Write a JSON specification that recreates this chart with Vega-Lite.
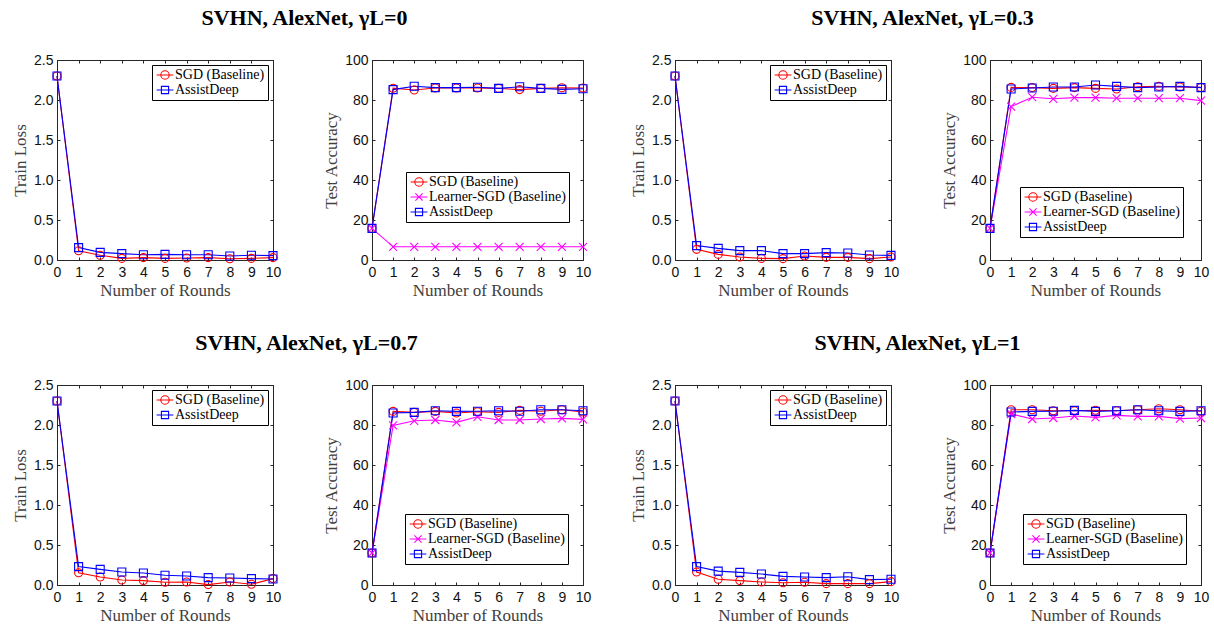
{
  "$schema": "https://vega.github.io/schema/vega-lite/v6.json",
  "padding": {"left": 11, "top": 6, "right": 2, "bottom": 2},
  "datasets": {
    "loss0": [
      {"round": 0, "series": "SGD (Baseline)", "value": 2.3}, {"round": 1, "series": "SGD (Baseline)", "value": 0.115}, {"round": 2, "series": "SGD (Baseline)", "value": 0.06}, {"round": 3, "series": "SGD (Baseline)", "value": 0.02}, {"round": 4, "series": "SGD (Baseline)", "value": 0.03}, {"round": 5, "series": "SGD (Baseline)", "value": 0.02}, {"round": 6, "series": "SGD (Baseline)", "value": 0.025}, {"round": 7, "series": "SGD (Baseline)", "value": 0.03}, {"round": 8, "series": "SGD (Baseline)", "value": 0.015}, {"round": 9, "series": "SGD (Baseline)", "value": 0.02}, {"round": 10, "series": "SGD (Baseline)", "value": 0.03},
      {"round": 0, "series": "AssistDeep", "value": 2.3}, {"round": 1, "series": "AssistDeep", "value": 0.155}, {"round": 2, "series": "AssistDeep", "value": 0.095}, {"round": 3, "series": "AssistDeep", "value": 0.08}, {"round": 4, "series": "AssistDeep", "value": 0.065}, {"round": 5, "series": "AssistDeep", "value": 0.07}, {"round": 6, "series": "AssistDeep", "value": 0.065}, {"round": 7, "series": "AssistDeep", "value": 0.065}, {"round": 8, "series": "AssistDeep", "value": 0.05}, {"round": 9, "series": "AssistDeep", "value": 0.06}, {"round": 10, "series": "AssistDeep", "value": 0.055}
    ],
    "acc0": [
      {"round": 0, "series": "SGD (Baseline)", "value": 15.8}, {"round": 1, "series": "SGD (Baseline)", "value": 85.9}, {"round": 2, "series": "SGD (Baseline)", "value": 85.0}, {"round": 3, "series": "SGD (Baseline)", "value": 86.0}, {"round": 4, "series": "SGD (Baseline)", "value": 86.0}, {"round": 5, "series": "SGD (Baseline)", "value": 86.0}, {"round": 6, "series": "SGD (Baseline)", "value": 85.8}, {"round": 7, "series": "SGD (Baseline)", "value": 85.2}, {"round": 8, "series": "SGD (Baseline)", "value": 85.8}, {"round": 9, "series": "SGD (Baseline)", "value": 86.1}, {"round": 10, "series": "SGD (Baseline)", "value": 86.0},
      {"round": 0, "series": "Learner-SGD (Baseline)", "value": 15.8}, {"round": 1, "series": "Learner-SGD (Baseline)", "value": 6.6}, {"round": 2, "series": "Learner-SGD (Baseline)", "value": 6.6}, {"round": 3, "series": "Learner-SGD (Baseline)", "value": 6.6}, {"round": 4, "series": "Learner-SGD (Baseline)", "value": 6.6}, {"round": 5, "series": "Learner-SGD (Baseline)", "value": 6.6}, {"round": 6, "series": "Learner-SGD (Baseline)", "value": 6.6}, {"round": 7, "series": "Learner-SGD (Baseline)", "value": 6.6}, {"round": 8, "series": "Learner-SGD (Baseline)", "value": 6.6}, {"round": 9, "series": "Learner-SGD (Baseline)", "value": 6.6}, {"round": 10, "series": "Learner-SGD (Baseline)", "value": 6.6},
      {"round": 0, "series": "AssistDeep", "value": 15.8}, {"round": 1, "series": "AssistDeep", "value": 85.2}, {"round": 2, "series": "AssistDeep", "value": 86.9}, {"round": 3, "series": "AssistDeep", "value": 86.2}, {"round": 4, "series": "AssistDeep", "value": 86.2}, {"round": 5, "series": "AssistDeep", "value": 86.4}, {"round": 6, "series": "AssistDeep", "value": 85.8}, {"round": 7, "series": "AssistDeep", "value": 86.6}, {"round": 8, "series": "AssistDeep", "value": 85.8}, {"round": 9, "series": "AssistDeep", "value": 85.3}, {"round": 10, "series": "AssistDeep", "value": 85.6}
    ],
    "loss03": [
      {"round": 0, "series": "SGD (Baseline)", "value": 2.3}, {"round": 1, "series": "SGD (Baseline)", "value": 0.133}, {"round": 2, "series": "SGD (Baseline)", "value": 0.07}, {"round": 3, "series": "SGD (Baseline)", "value": 0.037}, {"round": 4, "series": "SGD (Baseline)", "value": 0.02}, {"round": 5, "series": "SGD (Baseline)", "value": 0.017}, {"round": 6, "series": "SGD (Baseline)", "value": 0.05}, {"round": 7, "series": "SGD (Baseline)", "value": 0.033}, {"round": 8, "series": "SGD (Baseline)", "value": 0.033}, {"round": 9, "series": "SGD (Baseline)", "value": 0.017}, {"round": 10, "series": "SGD (Baseline)", "value": 0.037},
      {"round": 0, "series": "AssistDeep", "value": 2.3}, {"round": 1, "series": "AssistDeep", "value": 0.18}, {"round": 2, "series": "AssistDeep", "value": 0.145}, {"round": 3, "series": "AssistDeep", "value": 0.117}, {"round": 4, "series": "AssistDeep", "value": 0.117}, {"round": 5, "series": "AssistDeep", "value": 0.08}, {"round": 6, "series": "AssistDeep", "value": 0.08}, {"round": 7, "series": "AssistDeep", "value": 0.092}, {"round": 8, "series": "AssistDeep", "value": 0.088}, {"round": 9, "series": "AssistDeep", "value": 0.063}, {"round": 10, "series": "AssistDeep", "value": 0.058}
    ],
    "acc03": [
      {"round": 0, "series": "SGD (Baseline)", "value": 15.8}, {"round": 1, "series": "SGD (Baseline)", "value": 86.3}, {"round": 2, "series": "SGD (Baseline)", "value": 86.2}, {"round": 3, "series": "SGD (Baseline)", "value": 85.8}, {"round": 4, "series": "SGD (Baseline)", "value": 86.2}, {"round": 5, "series": "SGD (Baseline)", "value": 85.8}, {"round": 6, "series": "SGD (Baseline)", "value": 85.5}, {"round": 7, "series": "SGD (Baseline)", "value": 86.6}, {"round": 8, "series": "SGD (Baseline)", "value": 86.8}, {"round": 9, "series": "SGD (Baseline)", "value": 86.5}, {"round": 10, "series": "SGD (Baseline)", "value": 86.3},
      {"round": 0, "series": "Learner-SGD (Baseline)", "value": 15.8}, {"round": 1, "series": "Learner-SGD (Baseline)", "value": 76.7}, {"round": 2, "series": "Learner-SGD (Baseline)", "value": 81.4}, {"round": 3, "series": "Learner-SGD (Baseline)", "value": 80.6}, {"round": 4, "series": "Learner-SGD (Baseline)", "value": 81.2}, {"round": 5, "series": "Learner-SGD (Baseline)", "value": 81.2}, {"round": 6, "series": "Learner-SGD (Baseline)", "value": 80.9}, {"round": 7, "series": "Learner-SGD (Baseline)", "value": 80.9}, {"round": 8, "series": "Learner-SGD (Baseline)", "value": 80.9}, {"round": 9, "series": "Learner-SGD (Baseline)", "value": 80.9}, {"round": 10, "series": "Learner-SGD (Baseline)", "value": 79.7},
      {"round": 0, "series": "AssistDeep", "value": 15.8}, {"round": 1, "series": "AssistDeep", "value": 85.5}, {"round": 2, "series": "AssistDeep", "value": 86.0}, {"round": 3, "series": "AssistDeep", "value": 86.5}, {"round": 4, "series": "AssistDeep", "value": 86.5}, {"round": 5, "series": "AssistDeep", "value": 87.5}, {"round": 6, "series": "AssistDeep", "value": 86.8}, {"round": 7, "series": "AssistDeep", "value": 86.2}, {"round": 8, "series": "AssistDeep", "value": 86.5}, {"round": 9, "series": "AssistDeep", "value": 86.8}, {"round": 10, "series": "AssistDeep", "value": 86.2}
    ],
    "loss07": [
      {"round": 0, "series": "SGD (Baseline)", "value": 2.3}, {"round": 1, "series": "SGD (Baseline)", "value": 0.154}, {"round": 2, "series": "SGD (Baseline)", "value": 0.1}, {"round": 3, "series": "SGD (Baseline)", "value": 0.062}, {"round": 4, "series": "SGD (Baseline)", "value": 0.055}, {"round": 5, "series": "SGD (Baseline)", "value": 0.034}, {"round": 6, "series": "SGD (Baseline)", "value": 0.038}, {"round": 7, "series": "SGD (Baseline)", "value": 0.005}, {"round": 8, "series": "SGD (Baseline)", "value": 0.038}, {"round": 9, "series": "SGD (Baseline)", "value": 0.009}, {"round": 10, "series": "SGD (Baseline)", "value": 0.08},
      {"round": 0, "series": "AssistDeep", "value": 2.3}, {"round": 1, "series": "AssistDeep", "value": 0.23}, {"round": 2, "series": "AssistDeep", "value": 0.195}, {"round": 3, "series": "AssistDeep", "value": 0.162}, {"round": 4, "series": "AssistDeep", "value": 0.15}, {"round": 5, "series": "AssistDeep", "value": 0.121}, {"round": 6, "series": "AssistDeep", "value": 0.112}, {"round": 7, "series": "AssistDeep", "value": 0.092}, {"round": 8, "series": "AssistDeep", "value": 0.088}, {"round": 9, "series": "AssistDeep", "value": 0.08}, {"round": 10, "series": "AssistDeep", "value": 0.075}
    ],
    "acc07": [
      {"round": 0, "series": "SGD (Baseline)", "value": 16.0}, {"round": 1, "series": "SGD (Baseline)", "value": 86.8}, {"round": 2, "series": "SGD (Baseline)", "value": 86.3}, {"round": 3, "series": "SGD (Baseline)", "value": 86.8}, {"round": 4, "series": "SGD (Baseline)", "value": 86.0}, {"round": 5, "series": "SGD (Baseline)", "value": 86.6}, {"round": 6, "series": "SGD (Baseline)", "value": 86.3}, {"round": 7, "series": "SGD (Baseline)", "value": 87.3}, {"round": 8, "series": "SGD (Baseline)", "value": 86.9}, {"round": 9, "series": "SGD (Baseline)", "value": 87.6}, {"round": 10, "series": "SGD (Baseline)", "value": 86.5},
      {"round": 0, "series": "Learner-SGD (Baseline)", "value": 16.0}, {"round": 1, "series": "Learner-SGD (Baseline)", "value": 79.8}, {"round": 2, "series": "Learner-SGD (Baseline)", "value": 82.1}, {"round": 3, "series": "Learner-SGD (Baseline)", "value": 82.5}, {"round": 4, "series": "Learner-SGD (Baseline)", "value": 81.3}, {"round": 5, "series": "Learner-SGD (Baseline)", "value": 84.1}, {"round": 6, "series": "Learner-SGD (Baseline)", "value": 82.5}, {"round": 7, "series": "Learner-SGD (Baseline)", "value": 82.5}, {"round": 8, "series": "Learner-SGD (Baseline)", "value": 83.0}, {"round": 9, "series": "Learner-SGD (Baseline)", "value": 83.3}, {"round": 10, "series": "Learner-SGD (Baseline)", "value": 82.8},
      {"round": 0, "series": "AssistDeep", "value": 16.0}, {"round": 1, "series": "AssistDeep", "value": 86.0}, {"round": 2, "series": "AssistDeep", "value": 86.3}, {"round": 3, "series": "AssistDeep", "value": 87.1}, {"round": 4, "series": "AssistDeep", "value": 86.8}, {"round": 5, "series": "AssistDeep", "value": 86.9}, {"round": 6, "series": "AssistDeep", "value": 87.1}, {"round": 7, "series": "AssistDeep", "value": 86.9}, {"round": 8, "series": "AssistDeep", "value": 87.6}, {"round": 9, "series": "AssistDeep", "value": 87.6}, {"round": 10, "series": "AssistDeep", "value": 87.1}
    ],
    "loss1": [
      {"round": 0, "series": "SGD (Baseline)", "value": 2.3}, {"round": 1, "series": "SGD (Baseline)", "value": 0.162}, {"round": 2, "series": "SGD (Baseline)", "value": 0.071}, {"round": 3, "series": "SGD (Baseline)", "value": 0.055}, {"round": 4, "series": "SGD (Baseline)", "value": 0.038}, {"round": 5, "series": "SGD (Baseline)", "value": 0.029}, {"round": 6, "series": "SGD (Baseline)", "value": 0.034}, {"round": 7, "series": "SGD (Baseline)", "value": 0.017}, {"round": 8, "series": "SGD (Baseline)", "value": 0.017}, {"round": 9, "series": "SGD (Baseline)", "value": 0.017}, {"round": 10, "series": "SGD (Baseline)", "value": 0.042},
      {"round": 0, "series": "AssistDeep", "value": 2.3}, {"round": 1, "series": "AssistDeep", "value": 0.23}, {"round": 2, "series": "AssistDeep", "value": 0.174}, {"round": 3, "series": "AssistDeep", "value": 0.158}, {"round": 4, "series": "AssistDeep", "value": 0.137}, {"round": 5, "series": "AssistDeep", "value": 0.108}, {"round": 6, "series": "AssistDeep", "value": 0.1}, {"round": 7, "series": "AssistDeep", "value": 0.092}, {"round": 8, "series": "AssistDeep", "value": 0.104}, {"round": 9, "series": "AssistDeep", "value": 0.067}, {"round": 10, "series": "AssistDeep", "value": 0.071}
    ],
    "acc1": [
      {"round": 0, "series": "SGD (Baseline)", "value": 16.0}, {"round": 1, "series": "SGD (Baseline)", "value": 87.6}, {"round": 2, "series": "SGD (Baseline)", "value": 87.6}, {"round": 3, "series": "SGD (Baseline)", "value": 87.1}, {"round": 4, "series": "SGD (Baseline)", "value": 87.1}, {"round": 5, "series": "SGD (Baseline)", "value": 87.4}, {"round": 6, "series": "SGD (Baseline)", "value": 87.1}, {"round": 7, "series": "SGD (Baseline)", "value": 87.6}, {"round": 8, "series": "SGD (Baseline)", "value": 88.1}, {"round": 9, "series": "SGD (Baseline)", "value": 87.6}, {"round": 10, "series": "SGD (Baseline)", "value": 86.9},
      {"round": 0, "series": "Learner-SGD (Baseline)", "value": 16.0}, {"round": 1, "series": "Learner-SGD (Baseline)", "value": 85.5}, {"round": 2, "series": "Learner-SGD (Baseline)", "value": 83.0}, {"round": 3, "series": "Learner-SGD (Baseline)", "value": 83.5}, {"round": 4, "series": "Learner-SGD (Baseline)", "value": 84.5}, {"round": 5, "series": "Learner-SGD (Baseline)", "value": 83.8}, {"round": 6, "series": "Learner-SGD (Baseline)", "value": 84.8}, {"round": 7, "series": "Learner-SGD (Baseline)", "value": 84.3}, {"round": 8, "series": "Learner-SGD (Baseline)", "value": 84.3}, {"round": 9, "series": "Learner-SGD (Baseline)", "value": 83.2}, {"round": 10, "series": "Learner-SGD (Baseline)", "value": 83.5},
      {"round": 0, "series": "AssistDeep", "value": 16.0}, {"round": 1, "series": "AssistDeep", "value": 86.5}, {"round": 2, "series": "AssistDeep", "value": 86.8}, {"round": 3, "series": "AssistDeep", "value": 86.9}, {"round": 4, "series": "AssistDeep", "value": 87.3}, {"round": 5, "series": "AssistDeep", "value": 86.8}, {"round": 6, "series": "AssistDeep", "value": 87.1}, {"round": 7, "series": "AssistDeep", "value": 87.6}, {"round": 8, "series": "AssistDeep", "value": 87.1}, {"round": 9, "series": "AssistDeep", "value": 86.8}, {"round": 10, "series": "AssistDeep", "value": 87.1}
    ]
  },
  "resolve": {"scale": {"color": "independent", "shape": "independent"}},
  "vconcat": [
    {
      "resolve": {"scale": {"color": "independent", "shape": "independent"}},
      "hconcat": [
        {
          "title": {"text": "SVHN, AlexNet, γL=0", "dx": 3},
          "resolve": {"scale": {"color": "independent", "shape": "independent"}},
          "hconcat": [
            {
              "width": 216, "height": 200, "data": {"name": "loss0"},
              "resolve": {"scale": {"color": "independent", "shape": "independent"}, "axis": {"x": "independent", "y": "independent"}, "legend": {"color": "independent", "shape": "independent"}},
              "layer": [
                {"mark": {"type": "line", "strokeWidth": 1.1},
                 "encoding": {
                   "x": {"field": "round", "type": "quantitative", "scale": {"domain": [0, 10], "nice": false}, "axis": {"title": "Number of Rounds", "values": [0,1,2,3,4,5,6,7,8,9,10]}},
                   "y": {"field": "value", "type": "quantitative", "scale": {"domain": [0, 2.5], "nice": false}, "axis": {"title": "Train Loss", "values": [0,0.5,1,1.5,2,2.5]}},
                   "color": {"field": "series", "type": "nominal", "scale": {"domain": ["SGD (Baseline)", "AssistDeep"], "range": ["#ff0000", "#0000ff"]}, "legend": null}}},
                {"mark": {"type": "point", "filled": false, "size": 64, "strokeWidth": 1.1, "opacity": 1},
                 "encoding": {
                   "x": {"field": "round", "type": "quantitative", "scale": {"domain": [0, 10], "nice": false}, "axis": {"orient": "top", "labels": false, "title": null, "values": [0,1,2,3,4,5,6,7,8,9,10]}},
                   "y": {"field": "value", "type": "quantitative", "scale": {"domain": [0, 2.5], "nice": false}, "axis": {"orient": "right", "labels": false, "title": null, "values": [0,0.5,1,1.5,2,2.5]}},
                   "color": {"field": "series", "type": "nominal", "scale": {"domain": ["SGD (Baseline)", "AssistDeep"], "range": ["#ff0000", "#0000ff"]}, "legend": null},
                   "shape": {"field": "series", "type": "nominal", "scale": {"domain": ["SGD (Baseline)", "AssistDeep"], "range": ["circle", "square"]}, "legend": null}}},
                {"mark": {"type": "point", "filled": false, "size": 144, "strokeWidth": 1.1, "opacity": 0},
                 "encoding": {
                   "x": {"field": "round", "type": "quantitative", "scale": {"domain": [0, 10], "nice": false}, "axis": null},
                   "y": {"field": "value", "type": "quantitative", "scale": {"domain": [0, 2.5], "nice": false}, "axis": null},
                   "color": {"field": "series", "type": "nominal", "scale": {"domain": ["SGD (Baseline)", "AssistDeep"], "range": ["#ff0000", "#0000ff"]}, "legend": {"orient": "top-right", "offset": 5, "title": null}},
                   "shape": {"field": "series", "type": "nominal", "scale": {"domain": ["SGD (Baseline)", "AssistDeep"], "range": ["M-1.4,0L1.4,0M0.7,0A0.7,0.7,0,1,1,-0.7,0A0.7,0.7,0,1,1,0.7,0", "M-1.4,0L1.4,0M-0.6,-0.6L0.6,-0.6L0.6,0.6L-0.6,0.6Z"]}, "legend": {"orient": "top-right", "offset": 5, "title": null}}}}
              ]
            },
            {
              "width": 211, "height": 200, "data": {"name": "acc0"},
              "resolve": {"scale": {"color": "independent", "shape": "independent"}, "axis": {"x": "independent", "y": "independent"}, "legend": {"color": "independent", "shape": "independent"}},
              "layer": [
                {"mark": {"type": "line", "strokeWidth": 1.1},
                 "encoding": {
                   "x": {"field": "round", "type": "quantitative", "scale": {"domain": [0, 10], "nice": false}, "axis": {"title": "Number of Rounds", "values": [0,1,2,3,4,5,6,7,8,9,10]}},
                   "y": {"field": "value", "type": "quantitative", "scale": {"domain": [0, 100], "nice": false}, "axis": {"title": "Test Accuracy", "values": [0,20,40,60,80,100]}},
                   "color": {"field": "series", "type": "nominal", "scale": {"domain": ["SGD (Baseline)", "Learner-SGD (Baseline)", "AssistDeep"], "range": ["#ff0000", "#ff00ff", "#0000ff"]}, "legend": null}}},
                {"mark": {"type": "point", "filled": false, "size": 64, "strokeWidth": 1.1, "opacity": 1},
                 "encoding": {
                   "x": {"field": "round", "type": "quantitative", "scale": {"domain": [0, 10], "nice": false}, "axis": {"orient": "top", "labels": false, "title": null, "values": [0,1,2,3,4,5,6,7,8,9,10]}},
                   "y": {"field": "value", "type": "quantitative", "scale": {"domain": [0, 100], "nice": false}, "axis": {"orient": "right", "labels": false, "title": null, "values": [0,20,40,60,80,100]}},
                   "color": {"field": "series", "type": "nominal", "scale": {"domain": ["SGD (Baseline)", "Learner-SGD (Baseline)", "AssistDeep"], "range": ["#ff0000", "#ff00ff", "#0000ff"]}, "legend": null},
                   "shape": {"field": "series", "type": "nominal", "scale": {"domain": ["SGD (Baseline)", "Learner-SGD (Baseline)", "AssistDeep"], "range": ["circle", "M-1,-1L1,1M-1,1L1,-1", "square"]}, "legend": null}}},
                {"mark": {"type": "point", "filled": false, "size": 144, "strokeWidth": 1.1, "opacity": 0},
                 "encoding": {
                   "x": {"field": "round", "type": "quantitative", "scale": {"domain": [0, 10], "nice": false}, "axis": null},
                   "y": {"field": "value", "type": "quantitative", "scale": {"domain": [0, 100], "nice": false}, "axis": null},
                   "color": {"field": "series", "type": "nominal", "scale": {"domain": ["SGD (Baseline)", "Learner-SGD (Baseline)", "AssistDeep"], "range": ["#ff0000", "#ff00ff", "#0000ff"]}, "legend": {"orient": "none", "legendX": 34, "legendY": 112, "title": null}},
                   "shape": {"field": "series", "type": "nominal", "scale": {"domain": ["SGD (Baseline)", "Learner-SGD (Baseline)", "AssistDeep"], "range": ["M-1.4,0L1.4,0M0.7,0A0.7,0.7,0,1,1,-0.7,0A0.7,0.7,0,1,1,0.7,0", "M-1.4,0L1.4,0M-0.6,-0.6L0.6,0.6M-0.6,0.6L0.6,-0.6", "M-1.4,0L1.4,0M-0.6,-0.6L0.6,-0.6L0.6,0.6L-0.6,0.6Z"]}, "legend": {"orient": "none", "legendX": 34, "legendY": 112, "title": null}}}}
              ]
            }
          ],
          "spacing": 40
        },
        {
          "title": {"text": "SVHN, AlexNet, γL=0.3", "dx": 3},
          "resolve": {"scale": {"color": "independent", "shape": "independent"}},
          "hconcat": [
            {
              "width": 216, "height": 200, "data": {"name": "loss03"},
              "resolve": {"scale": {"color": "independent", "shape": "independent"}, "axis": {"x": "independent", "y": "independent"}, "legend": {"color": "independent", "shape": "independent"}},
              "layer": [
                {"mark": {"type": "line", "strokeWidth": 1.1},
                 "encoding": {
                   "x": {"field": "round", "type": "quantitative", "scale": {"domain": [0, 10], "nice": false}, "axis": {"title": "Number of Rounds", "values": [0,1,2,3,4,5,6,7,8,9,10]}},
                   "y": {"field": "value", "type": "quantitative", "scale": {"domain": [0, 2.5], "nice": false}, "axis": {"title": "Train Loss", "values": [0,0.5,1,1.5,2,2.5]}},
                   "color": {"field": "series", "type": "nominal", "scale": {"domain": ["SGD (Baseline)", "AssistDeep"], "range": ["#ff0000", "#0000ff"]}, "legend": null}}},
                {"mark": {"type": "point", "filled": false, "size": 64, "strokeWidth": 1.1, "opacity": 1},
                 "encoding": {
                   "x": {"field": "round", "type": "quantitative", "scale": {"domain": [0, 10], "nice": false}, "axis": {"orient": "top", "labels": false, "title": null, "values": [0,1,2,3,4,5,6,7,8,9,10]}},
                   "y": {"field": "value", "type": "quantitative", "scale": {"domain": [0, 2.5], "nice": false}, "axis": {"orient": "right", "labels": false, "title": null, "values": [0,0.5,1,1.5,2,2.5]}},
                   "color": {"field": "series", "type": "nominal", "scale": {"domain": ["SGD (Baseline)", "AssistDeep"], "range": ["#ff0000", "#0000ff"]}, "legend": null},
                   "shape": {"field": "series", "type": "nominal", "scale": {"domain": ["SGD (Baseline)", "AssistDeep"], "range": ["circle", "square"]}, "legend": null}}},
                {"mark": {"type": "point", "filled": false, "size": 144, "strokeWidth": 1.1, "opacity": 0},
                 "encoding": {
                   "x": {"field": "round", "type": "quantitative", "scale": {"domain": [0, 10], "nice": false}, "axis": null},
                   "y": {"field": "value", "type": "quantitative", "scale": {"domain": [0, 2.5], "nice": false}, "axis": null},
                   "color": {"field": "series", "type": "nominal", "scale": {"domain": ["SGD (Baseline)", "AssistDeep"], "range": ["#ff0000", "#0000ff"]}, "legend": {"orient": "top-right", "offset": 5, "title": null}},
                   "shape": {"field": "series", "type": "nominal", "scale": {"domain": ["SGD (Baseline)", "AssistDeep"], "range": ["M-1.4,0L1.4,0M0.7,0A0.7,0.7,0,1,1,-0.7,0A0.7,0.7,0,1,1,0.7,0", "M-1.4,0L1.4,0M-0.6,-0.6L0.6,-0.6L0.6,0.6L-0.6,0.6Z"]}, "legend": {"orient": "top-right", "offset": 5, "title": null}}}}
              ]
            },
            {
              "width": 211, "height": 200, "data": {"name": "acc03"},
              "resolve": {"scale": {"color": "independent", "shape": "independent"}, "axis": {"x": "independent", "y": "independent"}, "legend": {"color": "independent", "shape": "independent"}},
              "layer": [
                {"mark": {"type": "line", "strokeWidth": 1.1},
                 "encoding": {
                   "x": {"field": "round", "type": "quantitative", "scale": {"domain": [0, 10], "nice": false}, "axis": {"title": "Number of Rounds", "values": [0,1,2,3,4,5,6,7,8,9,10]}},
                   "y": {"field": "value", "type": "quantitative", "scale": {"domain": [0, 100], "nice": false}, "axis": {"title": "Test Accuracy", "values": [0,20,40,60,80,100]}},
                   "color": {"field": "series", "type": "nominal", "scale": {"domain": ["SGD (Baseline)", "Learner-SGD (Baseline)", "AssistDeep"], "range": ["#ff0000", "#ff00ff", "#0000ff"]}, "legend": null}}},
                {"mark": {"type": "point", "filled": false, "size": 64, "strokeWidth": 1.1, "opacity": 1},
                 "encoding": {
                   "x": {"field": "round", "type": "quantitative", "scale": {"domain": [0, 10], "nice": false}, "axis": {"orient": "top", "labels": false, "title": null, "values": [0,1,2,3,4,5,6,7,8,9,10]}},
                   "y": {"field": "value", "type": "quantitative", "scale": {"domain": [0, 100], "nice": false}, "axis": {"orient": "right", "labels": false, "title": null, "values": [0,20,40,60,80,100]}},
                   "color": {"field": "series", "type": "nominal", "scale": {"domain": ["SGD (Baseline)", "Learner-SGD (Baseline)", "AssistDeep"], "range": ["#ff0000", "#ff00ff", "#0000ff"]}, "legend": null},
                   "shape": {"field": "series", "type": "nominal", "scale": {"domain": ["SGD (Baseline)", "Learner-SGD (Baseline)", "AssistDeep"], "range": ["circle", "M-1,-1L1,1M-1,1L1,-1", "square"]}, "legend": null}}},
                {"mark": {"type": "point", "filled": false, "size": 144, "strokeWidth": 1.1, "opacity": 0},
                 "encoding": {
                   "x": {"field": "round", "type": "quantitative", "scale": {"domain": [0, 10], "nice": false}, "axis": null},
                   "y": {"field": "value", "type": "quantitative", "scale": {"domain": [0, 100], "nice": false}, "axis": null},
                   "color": {"field": "series", "type": "nominal", "scale": {"domain": ["SGD (Baseline)", "Learner-SGD (Baseline)", "AssistDeep"], "range": ["#ff0000", "#ff00ff", "#0000ff"]}, "legend": {"orient": "none", "legendX": 30, "legendY": 127, "title": null}},
                   "shape": {"field": "series", "type": "nominal", "scale": {"domain": ["SGD (Baseline)", "Learner-SGD (Baseline)", "AssistDeep"], "range": ["M-1.4,0L1.4,0M0.7,0A0.7,0.7,0,1,1,-0.7,0A0.7,0.7,0,1,1,0.7,0", "M-1.4,0L1.4,0M-0.6,-0.6L0.6,0.6M-0.6,0.6L0.6,-0.6", "M-1.4,0L1.4,0M-0.6,-0.6L0.6,-0.6L0.6,0.6L-0.6,0.6Z"]}, "legend": {"orient": "none", "legendX": 30, "legendY": 127, "title": null}}}}
              ]
            }
          ],
          "spacing": 40
        }
      ],
      "spacing": 37
    },
    {
      "resolve": {"scale": {"color": "independent", "shape": "independent"}},
      "hconcat": [
        {
          "title": {"text": "SVHN, AlexNet, γL=0.7", "dx": 5},
          "resolve": {"scale": {"color": "independent", "shape": "independent"}},
          "hconcat": [
            {
              "width": 216, "height": 200, "data": {"name": "loss07"},
              "resolve": {"scale": {"color": "independent", "shape": "independent"}, "axis": {"x": "independent", "y": "independent"}, "legend": {"color": "independent", "shape": "independent"}},
              "layer": [
                {"mark": {"type": "line", "strokeWidth": 1.1},
                 "encoding": {
                   "x": {"field": "round", "type": "quantitative", "scale": {"domain": [0, 10], "nice": false}, "axis": {"title": "Number of Rounds", "values": [0,1,2,3,4,5,6,7,8,9,10]}},
                   "y": {"field": "value", "type": "quantitative", "scale": {"domain": [0, 2.5], "nice": false}, "axis": {"title": "Train Loss", "values": [0,0.5,1,1.5,2,2.5]}},
                   "color": {"field": "series", "type": "nominal", "scale": {"domain": ["SGD (Baseline)", "AssistDeep"], "range": ["#ff0000", "#0000ff"]}, "legend": null}}},
                {"mark": {"type": "point", "filled": false, "size": 64, "strokeWidth": 1.1, "opacity": 1},
                 "encoding": {
                   "x": {"field": "round", "type": "quantitative", "scale": {"domain": [0, 10], "nice": false}, "axis": {"orient": "top", "labels": false, "title": null, "values": [0,1,2,3,4,5,6,7,8,9,10]}},
                   "y": {"field": "value", "type": "quantitative", "scale": {"domain": [0, 2.5], "nice": false}, "axis": {"orient": "right", "labels": false, "title": null, "values": [0,0.5,1,1.5,2,2.5]}},
                   "color": {"field": "series", "type": "nominal", "scale": {"domain": ["SGD (Baseline)", "AssistDeep"], "range": ["#ff0000", "#0000ff"]}, "legend": null},
                   "shape": {"field": "series", "type": "nominal", "scale": {"domain": ["SGD (Baseline)", "AssistDeep"], "range": ["circle", "square"]}, "legend": null}}},
                {"mark": {"type": "point", "filled": false, "size": 144, "strokeWidth": 1.1, "opacity": 0},
                 "encoding": {
                   "x": {"field": "round", "type": "quantitative", "scale": {"domain": [0, 10], "nice": false}, "axis": null},
                   "y": {"field": "value", "type": "quantitative", "scale": {"domain": [0, 2.5], "nice": false}, "axis": null},
                   "color": {"field": "series", "type": "nominal", "scale": {"domain": ["SGD (Baseline)", "AssistDeep"], "range": ["#ff0000", "#0000ff"]}, "legend": {"orient": "top-right", "offset": 5, "title": null}},
                   "shape": {"field": "series", "type": "nominal", "scale": {"domain": ["SGD (Baseline)", "AssistDeep"], "range": ["M-1.4,0L1.4,0M0.7,0A0.7,0.7,0,1,1,-0.7,0A0.7,0.7,0,1,1,0.7,0", "M-1.4,0L1.4,0M-0.6,-0.6L0.6,-0.6L0.6,0.6L-0.6,0.6Z"]}, "legend": {"orient": "top-right", "offset": 5, "title": null}}}}
              ]
            },
            {
              "width": 211, "height": 200, "data": {"name": "acc07"},
              "resolve": {"scale": {"color": "independent", "shape": "independent"}, "axis": {"x": "independent", "y": "independent"}, "legend": {"color": "independent", "shape": "independent"}},
              "layer": [
                {"mark": {"type": "line", "strokeWidth": 1.1},
                 "encoding": {
                   "x": {"field": "round", "type": "quantitative", "scale": {"domain": [0, 10], "nice": false}, "axis": {"title": "Number of Rounds", "values": [0,1,2,3,4,5,6,7,8,9,10]}},
                   "y": {"field": "value", "type": "quantitative", "scale": {"domain": [0, 100], "nice": false}, "axis": {"title": "Test Accuracy", "values": [0,20,40,60,80,100]}},
                   "color": {"field": "series", "type": "nominal", "scale": {"domain": ["SGD (Baseline)", "Learner-SGD (Baseline)", "AssistDeep"], "range": ["#ff0000", "#ff00ff", "#0000ff"]}, "legend": null}}},
                {"mark": {"type": "point", "filled": false, "size": 64, "strokeWidth": 1.1, "opacity": 1},
                 "encoding": {
                   "x": {"field": "round", "type": "quantitative", "scale": {"domain": [0, 10], "nice": false}, "axis": {"orient": "top", "labels": false, "title": null, "values": [0,1,2,3,4,5,6,7,8,9,10]}},
                   "y": {"field": "value", "type": "quantitative", "scale": {"domain": [0, 100], "nice": false}, "axis": {"orient": "right", "labels": false, "title": null, "values": [0,20,40,60,80,100]}},
                   "color": {"field": "series", "type": "nominal", "scale": {"domain": ["SGD (Baseline)", "Learner-SGD (Baseline)", "AssistDeep"], "range": ["#ff0000", "#ff00ff", "#0000ff"]}, "legend": null},
                   "shape": {"field": "series", "type": "nominal", "scale": {"domain": ["SGD (Baseline)", "Learner-SGD (Baseline)", "AssistDeep"], "range": ["circle", "M-1,-1L1,1M-1,1L1,-1", "square"]}, "legend": null}}},
                {"mark": {"type": "point", "filled": false, "size": 144, "strokeWidth": 1.1, "opacity": 0},
                 "encoding": {
                   "x": {"field": "round", "type": "quantitative", "scale": {"domain": [0, 10], "nice": false}, "axis": null},
                   "y": {"field": "value", "type": "quantitative", "scale": {"domain": [0, 100], "nice": false}, "axis": null},
                   "color": {"field": "series", "type": "nominal", "scale": {"domain": ["SGD (Baseline)", "Learner-SGD (Baseline)", "AssistDeep"], "range": ["#ff0000", "#ff00ff", "#0000ff"]}, "legend": {"orient": "none", "legendX": 33, "legendY": 129, "title": null}},
                   "shape": {"field": "series", "type": "nominal", "scale": {"domain": ["SGD (Baseline)", "Learner-SGD (Baseline)", "AssistDeep"], "range": ["M-1.4,0L1.4,0M0.7,0A0.7,0.7,0,1,1,-0.7,0A0.7,0.7,0,1,1,0.7,0", "M-1.4,0L1.4,0M-0.6,-0.6L0.6,0.6M-0.6,0.6L0.6,-0.6", "M-1.4,0L1.4,0M-0.6,-0.6L0.6,-0.6L0.6,0.6L-0.6,0.6Z"]}, "legend": {"orient": "none", "legendX": 33, "legendY": 129, "title": null}}}}
              ]
            }
          ],
          "spacing": 40
        },
        {
          "title": {"text": "SVHN, AlexNet, γL=1", "dx": -2},
          "resolve": {"scale": {"color": "independent", "shape": "independent"}},
          "hconcat": [
            {
              "width": 216, "height": 200, "data": {"name": "loss1"},
              "resolve": {"scale": {"color": "independent", "shape": "independent"}, "axis": {"x": "independent", "y": "independent"}, "legend": {"color": "independent", "shape": "independent"}},
              "layer": [
                {"mark": {"type": "line", "strokeWidth": 1.1},
                 "encoding": {
                   "x": {"field": "round", "type": "quantitative", "scale": {"domain": [0, 10], "nice": false}, "axis": {"title": "Number of Rounds", "values": [0,1,2,3,4,5,6,7,8,9,10]}},
                   "y": {"field": "value", "type": "quantitative", "scale": {"domain": [0, 2.5], "nice": false}, "axis": {"title": "Train Loss", "values": [0,0.5,1,1.5,2,2.5]}},
                   "color": {"field": "series", "type": "nominal", "scale": {"domain": ["SGD (Baseline)", "AssistDeep"], "range": ["#ff0000", "#0000ff"]}, "legend": null}}},
                {"mark": {"type": "point", "filled": false, "size": 64, "strokeWidth": 1.1, "opacity": 1},
                 "encoding": {
                   "x": {"field": "round", "type": "quantitative", "scale": {"domain": [0, 10], "nice": false}, "axis": {"orient": "top", "labels": false, "title": null, "values": [0,1,2,3,4,5,6,7,8,9,10]}},
                   "y": {"field": "value", "type": "quantitative", "scale": {"domain": [0, 2.5], "nice": false}, "axis": {"orient": "right", "labels": false, "title": null, "values": [0,0.5,1,1.5,2,2.5]}},
                   "color": {"field": "series", "type": "nominal", "scale": {"domain": ["SGD (Baseline)", "AssistDeep"], "range": ["#ff0000", "#0000ff"]}, "legend": null},
                   "shape": {"field": "series", "type": "nominal", "scale": {"domain": ["SGD (Baseline)", "AssistDeep"], "range": ["circle", "square"]}, "legend": null}}},
                {"mark": {"type": "point", "filled": false, "size": 144, "strokeWidth": 1.1, "opacity": 0},
                 "encoding": {
                   "x": {"field": "round", "type": "quantitative", "scale": {"domain": [0, 10], "nice": false}, "axis": null},
                   "y": {"field": "value", "type": "quantitative", "scale": {"domain": [0, 2.5], "nice": false}, "axis": null},
                   "color": {"field": "series", "type": "nominal", "scale": {"domain": ["SGD (Baseline)", "AssistDeep"], "range": ["#ff0000", "#0000ff"]}, "legend": {"orient": "top-right", "offset": 5, "title": null}},
                   "shape": {"field": "series", "type": "nominal", "scale": {"domain": ["SGD (Baseline)", "AssistDeep"], "range": ["M-1.4,0L1.4,0M0.7,0A0.7,0.7,0,1,1,-0.7,0A0.7,0.7,0,1,1,0.7,0", "M-1.4,0L1.4,0M-0.6,-0.6L0.6,-0.6L0.6,0.6L-0.6,0.6Z"]}, "legend": {"orient": "top-right", "offset": 5, "title": null}}}}
              ]
            },
            {
              "width": 211, "height": 200, "data": {"name": "acc1"},
              "resolve": {"scale": {"color": "independent", "shape": "independent"}, "axis": {"x": "independent", "y": "independent"}, "legend": {"color": "independent", "shape": "independent"}},
              "layer": [
                {"mark": {"type": "line", "strokeWidth": 1.1},
                 "encoding": {
                   "x": {"field": "round", "type": "quantitative", "scale": {"domain": [0, 10], "nice": false}, "axis": {"title": "Number of Rounds", "values": [0,1,2,3,4,5,6,7,8,9,10]}},
                   "y": {"field": "value", "type": "quantitative", "scale": {"domain": [0, 100], "nice": false}, "axis": {"title": "Test Accuracy", "values": [0,20,40,60,80,100]}},
                   "color": {"field": "series", "type": "nominal", "scale": {"domain": ["SGD (Baseline)", "Learner-SGD (Baseline)", "AssistDeep"], "range": ["#ff0000", "#ff00ff", "#0000ff"]}, "legend": null}}},
                {"mark": {"type": "point", "filled": false, "size": 64, "strokeWidth": 1.1, "opacity": 1},
                 "encoding": {
                   "x": {"field": "round", "type": "quantitative", "scale": {"domain": [0, 10], "nice": false}, "axis": {"orient": "top", "labels": false, "title": null, "values": [0,1,2,3,4,5,6,7,8,9,10]}},
                   "y": {"field": "value", "type": "quantitative", "scale": {"domain": [0, 100], "nice": false}, "axis": {"orient": "right", "labels": false, "title": null, "values": [0,20,40,60,80,100]}},
                   "color": {"field": "series", "type": "nominal", "scale": {"domain": ["SGD (Baseline)", "Learner-SGD (Baseline)", "AssistDeep"], "range": ["#ff0000", "#ff00ff", "#0000ff"]}, "legend": null},
                   "shape": {"field": "series", "type": "nominal", "scale": {"domain": ["SGD (Baseline)", "Learner-SGD (Baseline)", "AssistDeep"], "range": ["circle", "M-1,-1L1,1M-1,1L1,-1", "square"]}, "legend": null}}},
                {"mark": {"type": "point", "filled": false, "size": 144, "strokeWidth": 1.1, "opacity": 0},
                 "encoding": {
                   "x": {"field": "round", "type": "quantitative", "scale": {"domain": [0, 10], "nice": false}, "axis": null},
                   "y": {"field": "value", "type": "quantitative", "scale": {"domain": [0, 100], "nice": false}, "axis": null},
                   "color": {"field": "series", "type": "nominal", "scale": {"domain": ["SGD (Baseline)", "Learner-SGD (Baseline)", "AssistDeep"], "range": ["#ff0000", "#ff00ff", "#0000ff"]}, "legend": {"orient": "none", "legendX": 33, "legendY": 129, "title": null}},
                   "shape": {"field": "series", "type": "nominal", "scale": {"domain": ["SGD (Baseline)", "Learner-SGD (Baseline)", "AssistDeep"], "range": ["M-1.4,0L1.4,0M0.7,0A0.7,0.7,0,1,1,-0.7,0A0.7,0.7,0,1,1,0.7,0", "M-1.4,0L1.4,0M-0.6,-0.6L0.6,0.6M-0.6,0.6L0.6,-0.6", "M-1.4,0L1.4,0M-0.6,-0.6L0.6,-0.6L0.6,0.6L-0.6,0.6Z"]}, "legend": {"orient": "none", "legendX": 33, "legendY": 129, "title": null}}}}
              ]
            }
          ],
          "spacing": 40
        }
      ],
      "spacing": 37
    }
  ],
  "spacing": 32,
  "config": {
    "background": "white",
    "view": {"stroke": "#262626", "strokeWidth": 1},
    "axis": {"grid": false, "labelFont": "Liberation Sans", "labelFontSize": 14, "labelColor": "#111111", "titleFont": "Liberation Serif", "titleFontSize": 17, "titleFontWeight": "normal", "titleColor": "#404040", "tickSize": -3, "tickColor": "#262626", "domainColor": "#262626", "labelPadding": 7, "labelFlush": false, "labelOverlap": false, "titlePadding": 4},
    "axisX": {"labelPadding": 8, "titlePadding": 3},
    "legend": {"fillColor": "white", "strokeColor": "black", "padding": 3, "rowPadding": 1, "labelFont": "Liberation Serif", "labelFontSize": 14, "labelColor": "black", "symbolSize": 144, "symbolStrokeWidth": 1.1, "labelOffset": 3, "symbolOffset": 3, "direction": "vertical", "labelLimit": 300},
    "title": {"font": "Liberation Serif", "fontSize": 22, "fontWeight": "bold", "color": "black", "anchor": "middle", "offset": 23}
  }
}
